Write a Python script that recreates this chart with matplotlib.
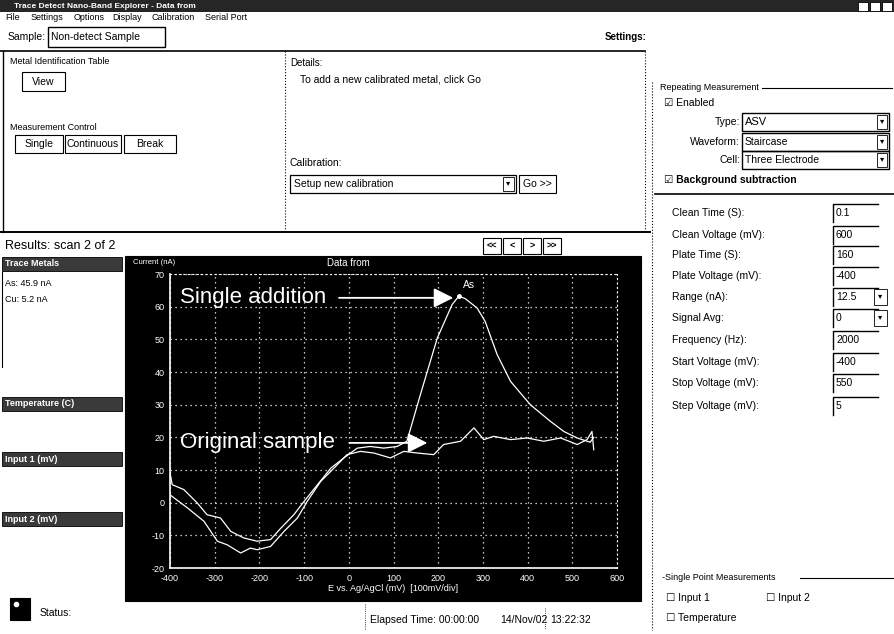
import matplotlib
matplotlib.use("Agg")
from matplotlib import pyplot as plt
from matplotlib.patches import Rectangle

plt.rcParams['font.family'] = ['Liberation Sans', 'DejaVu Sans']
plt.rcParams['axes.unicode_minus'] = False

# voltammogram traces (mV, nA)
orig_x = [-400, -361, -324, -294, -272, -242, -220, -205, -175, -145, -115, -93, -63,
          -33, -4, 26, 56, 93, 123, 153, 190, 212, 250, 280, 302, 324, 362, 399,
          436, 474, 511, 533, 544, 548]
orig_y = [2.4, -1.6, -5.7, -11.8, -12.9, -15.4, -13.9, -14.4, -13.4, -8.8, -4.7, 0.4, 6.5,
          10.6, 14.7, 15.7, 15.2, 13.7, 15.7, 15.2, 14.7, 17.8, 18.8, 22.9, 19.3, 20.3, 19.3, 19.8,
          18.8, 19.8, 17.8, 19.3, 21.8, 16.2]
add_x = [-400, -395, -369, -339, -317, -287, -264, -235, -205, -175, -152, -123, -100,
         -70, -40, -11, 19, 48, 78, 108, 130, 160, 198, 231, 246, 260, 287, 305, 332,
         362, 406, 451, 481, 511, 540, 548]
add_y = [9.1, 5.5, 4.0, -0.1, -3.7, -4.7, -8.8, -10.8, -11.8, -11.3, -7.8, -3.7, 0.4,
         5.5, 10.6, 13.7, 16.7, 17.2, 16.7, 17.2, 18.8, 33.0, 50.4, 60.6, 63.2, 62.5, 59.6, 55.5, 45.3,
         37.1, 30.0, 24.9, 21.8, 19.8, 18.5, 20.0]
x_ticks = [-400, -300, -200, -100, 0, 100, 200, 300, 400, 500, 600]
y_ticks = [-20, -10, 0, 10, 20, 30, 40, 50, 60, 70]

param_labels = ["Clean Time (S):", "Clean Voltage (mV):", "Plate Time (S):", "Plate Voltage (mV):",
                "Range (nA):", "Signal Avg:", "Frequency (Hz):", "Start Voltage (mV):",
                "Stop Voltage (mV):", "Step Voltage (mV):"]
param_values = ["0.1", "600", "160", "-400", "12.5", "0", "2000", "-400", "550", "5"]
param_rows = [213, 235, 255, 276, 297, 318, 340, 362, 383, 406]

W, H = 894, 634
fig = plt.figure(figsize=(W / 100, H / 100), dpi=100)
fig.patch.set_facecolor("white")

# full-figure axes in pixel coordinates for the window chrome
ui = fig.add_axes([0, 0, 1, 1])
ui.set_xlim(0, W)
ui.set_ylim(H, 0)
ui.axis("off")


def box(x0, y0, x1, y1, fc="none", ec="black", lw=0.8, ls="-"):
    ui.add_patch(Rectangle((x0, y0), x1 - x0, y1 - y0, facecolor=fc, edgecolor=ec, lw=lw, ls=ls))


def txt(x, y, s, size=7, **kw):
    ui.text(x, y, s, fontsize=size, va="center", **kw)


def line(xs, ys, lw=0.8, ls="-", color="black"):
    ui.plot(xs, ys, color=color, lw=lw, ls=ls)


# title bar + menu
box(0, 0, W, 12, fc="#262626", ec="none")
txt(14, 6, "Trace Detect Nano-Band Explorer - Data from", size=6, color="white", weight="bold")
for bx in (858, 870, 882):
    box(bx, 2, bx + 10, 11, fc="white", ec="black", lw=0.6)
menu = [(5, "File"), (31, "Settings"), (74, "Options"), (112, "Display"), (151, "Calibration"), (205, "Serial Port")]
for mx, m in menu:
    txt(mx, 18, m, size=6.5)

# sample row
txt(46, 37, "Sample:", size=7.5, ha="right")
box(48, 27, 165, 47, lw=1)
txt(51, 37, "Non-detect Sample", size=7.5)
txt(605, 37, "Settings:", size=7, weight="bold")

# upper control panels
line([0, 645], [51, 51], lw=1.2)
line([3, 3], [51, 232], lw=1)
line([285, 285], [51, 232], lw=0.8, ls=":")
line([645, 645], [51, 232], lw=0.8, ls=":")
line([0, 650], [232, 232], lw=1.4)

txt(10, 62, "Metal Identification Table", size=6.5)
box(22, 72, 65, 91, lw=0.8)
txt(43, 82, "View", size=7.5, ha="center")
txt(10, 127, "Measurement Control", size=6.5)
for x0, x1, lab in [(15, 63, "Single"), (65, 121, "Continuous"), (124, 176, "Break")]:
    box(x0, 135, x1, 153, lw=0.8)
    txt((x0 + x1) / 2, 144, lab, size=7.5, ha="center")

txt(290, 63, "Details:", size=7)
txt(300, 80, "To add a new calibrated metal, click Go", size=7.5)
txt(290, 163, "Calibration:", size=7.5)
box(290, 175, 516, 193, lw=0.9)
txt(294, 184, "Setup new calibration", size=7.5)
box(503, 177, 514, 191, lw=0.6)
txt(508.5, 184, "\u25be", size=6, ha="center")
box(519, 175, 556, 193, lw=0.8)
txt(537, 184, "Go >>", size=7.5, ha="center")

# results row
txt(5, 246, "Results: scan 2 of 2", size=9)
for i, lab in enumerate(["<<", "<", ">", ">>"]):
    box(483 + i * 20, 238, 501 + i * 20, 254, lw=0.8)
    txt(492 + i * 20, 246, lab, size=6.5, ha="center", weight="bold")

# left result list
for y0, lab in [(257, "Trace Metals"), (397, "Temperature (C)"), (452, "Input 1 (mV)"), (512, "Input 2 (mV)")]:
    box(2, y0, 122, y0 + 14, fc="#3a3a3a", ec="black", lw=0.6)
    txt(5, y0 + 7, lab, size=6.5, color="white", weight="bold")
txt(5, 283, "As: 45.9 nA", size=6.5)
txt(5, 300, "Cu: 5.2 nA", size=6.5)
line([2, 2], [272, 367], lw=0.8)

# status row
box(10, 598, 30, 620, fc="black", ec="black")
ui.plot([16], [604], marker="o", color="white", ms=3)
txt(40, 613, "Status:", size=7.5)
line([365, 365], [604, 630], lw=0.6, ls=":")
txt(370, 620, "Elapsed Time: 00:00:00", size=7.5)
txt(500, 620, "14/Nov/02", size=7.5)
line([545, 545], [608, 630], lw=0.6, ls=":")
txt(550, 620, "13:22:32", size=7.5)

# right settings panel
line([652, 652], [82, 630], lw=0.8, ls=":")
txt(660, 88, "Repeating Measurement", size=6.5)
line([762, 892], [88, 88], lw=0.8)
txt(664, 103, "\u2611 Enabled", size=7.5)
for y, lab, val in [(122, "Type:", "ASV"), (142, "Waveform:", "Staircase"), (160, "Cell:", "Three Electrode")]:
    txt(740, y, lab, size=7.5, ha="right")
    box(742, y - 9, 889, y + 9, lw=1)
    txt(745, y, val, size=8 if val == "ASV" else 7.5)
    box(877, y - 7, 887, y + 7, lw=0.6)
    txt(882, y, "\u25be", size=6, ha="center")
txt(664, 180, "\u2611 Background subtraction", size=7.5, weight="bold")
line([655, 894], [194, 194], lw=1.2)

for y, lab, val in zip(param_rows, param_labels, param_values):
    txt(672, y, lab, size=7.5)
    line([833, 833, 878], [y + 9, y - 9, y - 9], lw=1)
    txt(836, y, val, size=7.5)
for y in (297, 318):
    box(874, y - 8, 887, y + 8, lw=0.6)
    txt(880, y, "\u25be", size=6, ha="center")

txt(662, 578, "-Single Point Measurements", size=6.5)
line([800, 894], [578, 578], lw=0.8)
txt(666, 598, "\u2610 Input 1", size=7.5)
txt(766, 598, "\u2610 Input 2", size=7.5)
txt(666, 618, "\u2610 Temperature", size=7.5)

# black graph panel
box(125, 256, 641, 601, fc="black", ec="black")
txt(133, 263, "Current (nA)", size=5.5, color="white")
txt(348, 263, "Data from", size=7, color="white", ha="center")

# the chart itself
ax = fig.add_axes([170 / W, 1 - 568 / H, (617 - 170) / W, (568 - 274) / H])
ax.set_facecolor("black")
ax.plot(orig_x, orig_y, color="white", lw=0.9)
ax.plot(add_x, add_y, color="white", lw=0.9)
ax.plot([246], [63.2], marker="o", color="white", ms=2.5)
ax.text(268, 66.5, "As", color="white", fontsize=7.5, ha="center", va="center")

ax.set_xlim(-400, 600)
ax.set_ylim(-20, 70)
ax.set_xticks(x_ticks)
ax.set_yticks(y_ticks)
ax.grid(True, color="white", ls=(0, (1, 3)), lw=0.9)
ax.tick_params(colors="white", labelsize=6.5, length=0, pad=4)
for s in ("left", "bottom"):
    ax.spines[s].set_color("white")
    ax.spines[s].set_linewidth(1.2)
for s in ("top", "right"):
    ax.spines[s].set_color("white")
    ax.spines[s].set_linestyle((0, (1, 3)))
ax.set_xlabel("E vs. Ag/AgCl (mV)  [100mV/div]", color="white", fontsize=6.5, labelpad=1)

# annotation arrows
ax.text(-378, 62.7, "Single addition", color="white", fontsize=16, va="center")
ax.annotate("", xy=(240, 62.7), xytext=(-28, 62.7),
            arrowprops=dict(arrowstyle="-|>", color="white", lw=1.3, mutation_scale=30))
ax.text(-378, 18.3, "Original sample", color="white", fontsize=16, va="center")
ax.annotate("", xy=(182, 18.3), xytext=(-5, 18.3),
            arrowprops=dict(arrowstyle="-|>", color="white", lw=1.3, mutation_scale=30))

fig.savefig("out.png", dpi=100, facecolor=fig.get_facecolor())
